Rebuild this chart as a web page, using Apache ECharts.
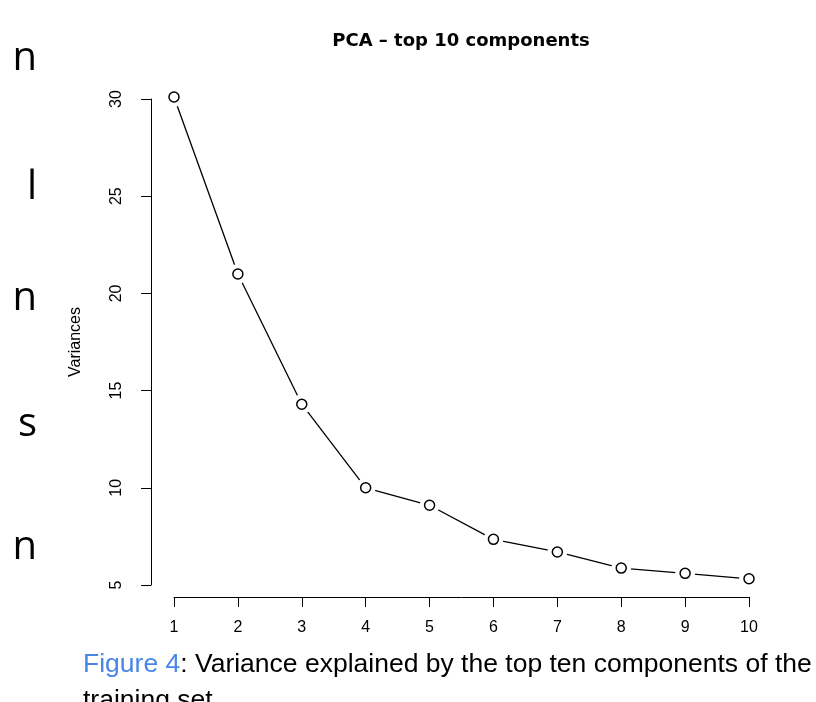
<!DOCTYPE html>
<html>
<head>
<meta charset="utf-8">
<script src="https://cdn.jsdelivr.net/npm/echarts@6/dist/echarts.min.js"></script>
<style>
  html, body { margin: 0; padding: 0; background: #fff; }
  #root { width: 816px; height: 702px; }
</style>
</head>
<body>
<div id="root"></div>
<script>
// component index and variance
const components = [1, 2, 3, 4, 5, 6, 7, 8, 9, 10];
const variances = [30.1, 21.0, 14.3, 10.0, 9.1, 7.35, 6.7, 5.87, 5.6, 5.32];
const yTicks = [5, 10, 15, 20, 25, 30];

// bits of the neighbouring text column that show at the left edge
const sideLetters = ["n", "l", "n", "s", "n"];
const sideY = [59, 188, 299, 425, 548];

const points = components.map((c, i) => [c, variances[i]]);

const chart = echarts.init(document.getElementById("root"));

const axisText = { color: "#000", fontSize: 16, fontFamily: "Liberation Sans" };

chart.setOption({
  animation: false,
  backgroundColor: "#fff",
  title: {
    text: "PCA \u2013 top 10 components",
    left: 456,
    top: 27,
    textAlign: "center",
    textStyle: { fontFamily: "DejaVu Sans", fontWeight: "bold", fontSize: 18, color: "#000" }
  },
  grid: { left: 174, right: 67, top: 99, bottom: 117 },
  xAxis: {
    type: "value",
    min: 1,
    max: 10,
    interval: 1,
    offset: 12,
    splitLine: { show: false },
    axisLine: { lineStyle: { color: "#000", width: 1 } },
    axisTick: { length: 10, lineStyle: { color: "#000" } },
    axisLabel: Object.assign({ margin: 23 }, axisText)
  },
  yAxis: {
    type: "value",
    min: yTicks[0],
    max: yTicks[yTicks.length - 1],
    interval: 5,
    offset: 23,
    name: "Variances",
    nameLocation: "middle",
    nameGap: 67,
    nameTextStyle: { color: "#000", fontSize: 16, fontFamily: "Liberation Sans" },
    splitLine: { show: false },
    axisLine: { show: true, lineStyle: { color: "#000", width: 1 } },
    axisTick: { show: true, length: 10, lineStyle: { color: "#000" } },
    axisLabel: Object.assign({ margin: 26, rotate: 90 }, axisText)
  },
  series: [
    {
      type: "line",
      data: points,
      clip: false,
      symbol: "none",
      lineStyle: { color: "#000", width: 1.3 },
      z: 1
    },
    {
      // white halo so the line stops short of each point, like R's type = "b"
      type: "scatter",
      data: points,
      clip: false,
      symbol: "circle",
      symbolSize: 20,
      itemStyle: { color: "#fff", opacity: 1 },
      silent: true,
      z: 5
    },
    {
      type: "scatter",
      data: points,
      clip: false,
      symbol: "circle",
      symbolSize: 10,
      itemStyle: { color: "#fff", borderColor: "#000", borderWidth: 1.5, opacity: 1 },
      z: 6
    }
  ],
  graphic: sideLetters.map((ch, i) => ({
    type: "text",
    x: 37,
    y: sideY[i],
    style: {
      text: ch,
      align: "right",
      verticalAlign: "middle",
      font: "40px 'Open Sans'",
      fill: "#000"
    }
  })).concat([
    {
      type: "text",
      x: 83,
      y: 665,
      style: {
        text: "{a|Figure 4}{b|: Variance explained by the top ten components of the}",
        verticalAlign: "middle",
        rich: {
          a: { fontSize: 26.5, fontFamily: "Liberation Sans", fill: "#4a86e8" },
          b: { fontSize: 26.5, fontFamily: "Liberation Sans", fill: "#000" }
        }
      }
    },
    {
      type: "text",
      x: 83,
      y: 701,
      style: {
        text: "training set.",
        verticalAlign: "middle",
        font: "26.5px 'Liberation Sans'",
        fill: "#000"
      }
    }
  ])
});
</script>
</body>
</html>
